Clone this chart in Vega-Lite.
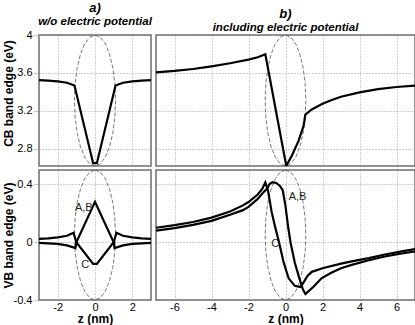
{
  "$schema": "https://vega.github.io/schema/vega-lite/v6.json",
  "padding": {"left": 1, "top": 0, "right": 0, "bottom": 0},
  "config": {
    "view": {"stroke": "#6e6e6e", "strokeWidth": 1.5},
    "font": "Liberation Sans",
    "axis": {"labelFontSize": 11, "labelColor": "#000", "titleFontSize": 12, "titleFontWeight": "bold", "titleColor": "#000", "gridColor": "#8a8a8a", "gridDash": [1, 2], "gridWidth": 0.8, "gridOpacity": 1, "domain": false, "labelFont": "Liberation Sans", "titleFont": "Liberation Sans", "tickColor": "#8a8a8a", "tickDash": [1, 1], "tickSize": 5, "labelPadding": 2},
    "title": {"font": "Liberation Sans", "fontSize": 13, "fontStyle": "italic", "fontWeight": "bold", "color": "#000", "subtitleFont": "Liberation Sans", "subtitleFontSize": 11.5, "subtitleFontStyle": "italic", "subtitleFontWeight": "bold", "subtitleColor": "#000", "offset": 2, "subtitlePadding": 1, "anchor": "middle"}
  },
  "datasets": {
    "ell": [
      {"i": 0, "z": 0, "vt": 4.0, "vb": 0.5},
      {"i": 1, "z": 0.2847, "vt": 3.9765, "vb": 0.4847},
      {"i": 2, "z": 0.55, "vt": 3.9075, "vb": 0.4397},
      {"i": 3, "z": 0.7778, "vt": 3.7979, "vb": 0.3682},
      {"i": 4, "z": 0.9526, "vt": 3.655, "vb": 0.275},
      {"i": 5, "z": 1.0625, "vt": 3.4886, "vb": 0.1665},
      {"i": 6, "z": 1.1, "vt": 3.31, "vb": 0.05},
      {"i": 7, "z": 1.0625, "vt": 3.1314, "vb": -0.0665},
      {"i": 8, "z": 0.9526, "vt": 2.965, "vb": -0.175},
      {"i": 9, "z": 0.7778, "vt": 2.8221, "vb": -0.2682},
      {"i": 10, "z": 0.55, "vt": 2.7125, "vb": -0.3397},
      {"i": 11, "z": 0.2847, "vt": 2.6435, "vb": -0.3847},
      {"i": 12, "z": 0, "vt": 2.62, "vb": -0.4},
      {"i": 13, "z": -0.2847, "vt": 2.6435, "vb": -0.3847},
      {"i": 14, "z": -0.55, "vt": 2.7125, "vb": -0.3397},
      {"i": 15, "z": -0.7778, "vt": 2.8221, "vb": -0.2682},
      {"i": 16, "z": -0.9526, "vt": 2.965, "vb": -0.175},
      {"i": 17, "z": -1.0625, "vt": 3.1314, "vb": -0.0665},
      {"i": 18, "z": -1.1, "vt": 3.31, "vb": 0.05},
      {"i": 19, "z": -1.0625, "vt": 3.4886, "vb": 0.1665},
      {"i": 20, "z": -0.9526, "vt": 3.655, "vb": 0.275},
      {"i": 21, "z": -0.7778, "vt": 3.7979, "vb": 0.3682},
      {"i": 22, "z": -0.55, "vt": 3.9075, "vb": 0.4397},
      {"i": 23, "z": -0.2847, "vt": 3.9765, "vb": 0.4847},
      {"i": 24, "z": 0, "vt": 4.0, "vb": 0.5}
    ],
    "cbL": [
      {"z": -3, "v": 3.525}, {"z": -2.5, "v": 3.52}, {"z": -2, "v": 3.512}, {"z": -1.5, "v": 3.497}, {"z": -1.1, "v": 3.468},
      {"z": -0.1, "v": 2.65}, {"z": 0.1, "v": 2.65},
      {"z": 1.1, "v": 3.468}, {"z": 1.5, "v": 3.497}, {"z": 2, "v": 3.512}, {"z": 2.5, "v": 3.52}, {"z": 3, "v": 3.525}
    ],
    "cbR": [
      {"z": -7, "v": 3.607}, {"z": -6, "v": 3.622}, {"z": -5, "v": 3.642}, {"z": -4, "v": 3.67}, {"z": -3, "v": 3.702},
      {"z": -2, "v": 3.74}, {"z": -1.5, "v": 3.765}, {"z": -1.09, "v": 3.797}, {"z": 0.04, "v": 2.622}, {"z": 0.35, "v": 2.73},
      {"z": 0.71, "v": 2.887}, {"z": 0.98, "v": 3.045}, {"z": 1.07, "v": 3.16}, {"z": 1.42, "v": 3.215}, {"z": 2, "v": 3.275},
      {"z": 2.5, "v": 3.315}, {"z": 3, "v": 3.35}, {"z": 4, "v": 3.395}, {"z": 5, "v": 3.43}, {"z": 6, "v": 3.452}, {"z": 7, "v": 3.467}
    ],
    "vbL": [
      {"s": "AB", "z": -3, "v": -0.005}, {"s": "AB", "z": -2.5, "v": -0.008}, {"s": "AB", "z": -2, "v": -0.012}, {"s": "AB", "z": -1.5, "v": -0.022}, {"s": "AB", "z": -1.05, "v": -0.04},
      {"s": "AB", "z": -1.0, "v": 0.0}, {"s": "AB", "z": 0, "v": 0.28}, {"s": "AB", "z": 1.0, "v": 0.0},
      {"s": "AB", "z": 1.05, "v": -0.04}, {"s": "AB", "z": 1.5, "v": -0.022}, {"s": "AB", "z": 2, "v": -0.012}, {"s": "AB", "z": 2.5, "v": -0.008}, {"s": "AB", "z": 3, "v": -0.005},
      {"s": "C", "z": -3, "v": 0.023}, {"s": "C", "z": -2.5, "v": 0.027}, {"s": "C", "z": -2, "v": 0.033}, {"s": "C", "z": -1.5, "v": 0.045}, {"s": "C", "z": -1.15, "v": 0.065},
      {"s": "C", "z": -1.0, "v": 0.0}, {"s": "C", "z": -0.1, "v": -0.15}, {"s": "C", "z": 0.1, "v": -0.15}, {"s": "C", "z": 1.0, "v": 0.0},
      {"s": "C", "z": 1.15, "v": 0.065}, {"s": "C", "z": 1.5, "v": 0.045}, {"s": "C", "z": 2, "v": 0.033}, {"s": "C", "z": 2.5, "v": 0.027}, {"s": "C", "z": 3, "v": 0.023}
    ],
    "vbR": [
      {"s": "AB", "z": -7, "v": 0.08}, {"s": "AB", "z": -6, "v": 0.098}, {"s": "AB", "z": -5, "v": 0.12}, {"s": "AB", "z": -4, "v": 0.148}, {"s": "AB", "z": -3, "v": 0.19},
      {"s": "AB", "z": -2.3, "v": 0.222}, {"s": "AB", "z": -2, "v": 0.245}, {"s": "AB", "z": -1.5, "v": 0.3}, {"s": "AB", "z": -1.2, "v": 0.345}, {"s": "AB", "z": -1.0, "v": 0.37},
      {"s": "AB", "z": -0.85, "v": 0.405}, {"s": "AB", "z": -0.7, "v": 0.415}, {"s": "AB", "z": -0.5, "v": 0.41}, {"s": "AB", "z": -0.3, "v": 0.39}, {"s": "AB", "z": -0.15, "v": 0.36},
      {"s": "AB", "z": 0.0, "v": 0.25}, {"s": "AB", "z": 0.15, "v": 0.1}, {"s": "AB", "z": 0.27, "v": 0.0}, {"s": "AB", "z": 0.5, "v": -0.14}, {"s": "AB", "z": 0.75, "v": -0.25},
      {"s": "AB", "z": 0.95, "v": -0.33}, {"s": "AB", "z": 1.08, "v": -0.358}, {"s": "AB", "z": 1.5, "v": -0.31}, {"s": "AB", "z": 1.96, "v": -0.248}, {"s": "AB", "z": 2.5, "v": -0.21},
      {"s": "AB", "z": 3, "v": -0.18}, {"s": "AB", "z": 3.58, "v": -0.157}, {"s": "AB", "z": 4.5, "v": -0.125}, {"s": "AB", "z": 5.37, "v": -0.099}, {"s": "AB", "z": 6.2, "v": -0.08}, {"s": "AB", "z": 7, "v": -0.064},
      {"s": "C", "z": -7, "v": 0.1}, {"s": "C", "z": -6, "v": 0.118}, {"s": "C", "z": -5, "v": 0.14}, {"s": "C", "z": -4, "v": 0.17}, {"s": "C", "z": -3, "v": 0.213},
      {"s": "C", "z": -2.3, "v": 0.255}, {"s": "C", "z": -2, "v": 0.278}, {"s": "C", "z": -1.5, "v": 0.33}, {"s": "C", "z": -1.25, "v": 0.37}, {"s": "C", "z": -1.09, "v": 0.414},
      {"s": "C", "z": -0.95, "v": 0.36}, {"s": "C", "z": -0.75, "v": 0.21}, {"s": "C", "z": -0.55, "v": 0.1}, {"s": "C", "z": -0.35, "v": 0.0}, {"s": "C", "z": -0.1, "v": -0.14},
      {"s": "C", "z": 0.17, "v": -0.25}, {"s": "C", "z": 0.5, "v": -0.302}, {"s": "C", "z": 0.8, "v": -0.31}, {"s": "C", "z": 0.92, "v": -0.29}, {"s": "C", "z": 1.2, "v": -0.232},
      {"s": "C", "z": 1.42, "v": -0.205}, {"s": "C", "z": 2, "v": -0.18}, {"s": "C", "z": 3, "v": -0.148}, {"s": "C", "z": 3.58, "v": -0.133}, {"s": "C", "z": 4.5, "v": -0.11},
      {"s": "C", "z": 5.37, "v": -0.085}, {"s": "C", "z": 6.2, "v": -0.065}, {"s": "C", "z": 7, "v": -0.048}
    ],
    "labL": [{"z": -0.6, "v": 0.24, "t": "A,B"}, {"z": -0.52, "v": -0.157, "t": "C"}],
    "labR": [{"z": 0.65, "v": 0.315, "t": "A,B"}, {"z": -0.55, "v": -0.014, "t": "C"}]
  },
  "columns": 2,
  "align": "each",
  "bounds": "flush",
  "spacing": {"row": 4, "column": 5},
  "concat": [
    {
      "width": 112, "height": 131,
      "title": {"text": "a)", "subtitle": "w/o electric potential"},
      "layer": [
        {
          "data": {"name": "ell"},
          "mark": {"type": "line", "color": "#555", "strokeWidth": 0.8, "strokeDash": [4, 2], "clip": true},
          "encoding": {
            "x": {"field": "z", "type": "quantitative", "scale": {"domain": [-3, 3], "nice": false, "zero": false}, "axis": {"values": [-2, 0, 2], "labels": false, "ticks": false, "title": null}},
            "y": {"field": "vt", "type": "quantitative", "scale": {"domain": [2.62, 4], "nice": false, "zero": false}, "axis": {"values": [2.8, 3.2, 3.6, 4], "format": "~g", "title": "CB band edge (eV)", "titleX": -24, "titleY": 58, "titleAlign": "center", "titleBaseline": "bottom"}},
            "order": {"field": "i", "type": "quantitative"}
          }
        },
        {
          "data": {"name": "cbL"},
          "mark": {"type": "line", "color": "#000", "strokeWidth": 2.2, "clip": true},
          "encoding": {
            "x": {"field": "z", "type": "quantitative"},
            "y": {"field": "v", "type": "quantitative"}
          }
        }
      ]
    },
    {
      "width": 259, "height": 131,
      "title": {"text": "b)", "subtitle": "including electric potential"},
      "layer": [
        {
          "data": {"name": "ell"},
          "mark": {"type": "line", "color": "#555", "strokeWidth": 0.8, "strokeDash": [4, 2], "clip": true},
          "encoding": {
            "x": {"field": "z", "type": "quantitative", "scale": {"domain": [-7, 7], "nice": false, "zero": false}, "axis": {"values": [-6, -4, -2, 0, 2, 4, 6], "labels": false, "ticks": false, "title": null}},
            "y": {"field": "vt", "type": "quantitative", "scale": {"domain": [2.62, 4], "nice": false, "zero": false}, "axis": {"values": [2.8, 3.2, 3.6, 4], "labels": false, "ticks": false, "title": null}},
            "order": {"field": "i", "type": "quantitative"}
          }
        },
        {
          "data": {"name": "cbR"},
          "mark": {"type": "line", "color": "#000", "strokeWidth": 2.2, "clip": true},
          "encoding": {
            "x": {"field": "z", "type": "quantitative"},
            "y": {"field": "v", "type": "quantitative"}
          }
        }
      ]
    },
    {
      "width": 112, "height": 130,
      "layer": [
        {
          "data": {"name": "ell"},
          "mark": {"type": "line", "color": "#555", "strokeWidth": 0.8, "strokeDash": [4, 2], "clip": true},
          "encoding": {
            "x": {"field": "z", "type": "quantitative", "scale": {"domain": [-3, 3], "nice": false, "zero": false}, "axis": {"values": [-2, 0, 2], "ticks": false, "labelPadding": 1, "title": "z (nm)", "titlePadding": 1, "labelExpr": "replace(datum.label, '\u2212', '-')"}},
            "y": {"field": "vb", "type": "quantitative", "scale": {"domain": [-0.4, 0.5], "nice": false, "zero": false}, "axis": {"values": [-0.4, -0.2, 0, 0.2, 0.4], "format": "~g", "labelExpr": "replace(datum.label, '\u2212', '-')", "title": "VB band edge (eV)", "titleX": -24, "titleY": 65, "titleAlign": "center", "titleBaseline": "bottom"}},
            "order": {"field": "i", "type": "quantitative"}
          }
        },
        {
          "data": {"name": "vbL"},
          "mark": {"type": "line", "color": "#000", "strokeWidth": 2.2, "clip": true},
          "encoding": {
            "x": {"field": "z", "type": "quantitative"},
            "y": {"field": "v", "type": "quantitative"},
            "detail": {"field": "s", "type": "nominal"}
          }
        },
        {
          "data": {"name": "labL"},
          "mark": {"type": "text", "fontSize": 11, "color": "#222", "font": "Liberation Sans"},
          "encoding": {
            "x": {"field": "z", "type": "quantitative"},
            "y": {"field": "v", "type": "quantitative"},
            "text": {"field": "t"}
          }
        }
      ]
    },
    {
      "width": 259, "height": 130,
      "layer": [
        {
          "data": {"name": "ell"},
          "mark": {"type": "line", "color": "#555", "strokeWidth": 0.8, "strokeDash": [4, 2], "clip": true},
          "encoding": {
            "x": {"field": "z", "type": "quantitative", "scale": {"domain": [-7, 7], "nice": false, "zero": false}, "axis": {"values": [-6, -4, -2, 0, 2, 4, 6], "ticks": false, "labelPadding": 1, "title": "z (nm)", "titlePadding": 1, "labelExpr": "replace(datum.label, '\u2212', '-')"}},
            "y": {"field": "vb", "type": "quantitative", "scale": {"domain": [-0.4, 0.5], "nice": false, "zero": false}, "axis": {"values": [-0.4, -0.2, 0, 0.2, 0.4], "labels": false, "ticks": false, "title": null}},
            "order": {"field": "i", "type": "quantitative"}
          }
        },
        {
          "data": {"name": "vbR"},
          "mark": {"type": "line", "color": "#000", "strokeWidth": 2.2, "clip": true},
          "encoding": {
            "x": {"field": "z", "type": "quantitative"},
            "y": {"field": "v", "type": "quantitative"},
            "detail": {"field": "s", "type": "nominal"}
          }
        },
        {
          "data": {"name": "labR"},
          "mark": {"type": "text", "fontSize": 11, "color": "#222", "font": "Liberation Sans"},
          "encoding": {
            "x": {"field": "z", "type": "quantitative"},
            "y": {"field": "v", "type": "quantitative"},
            "text": {"field": "t"}
          }
        }
      ]
    }
  ]
}
